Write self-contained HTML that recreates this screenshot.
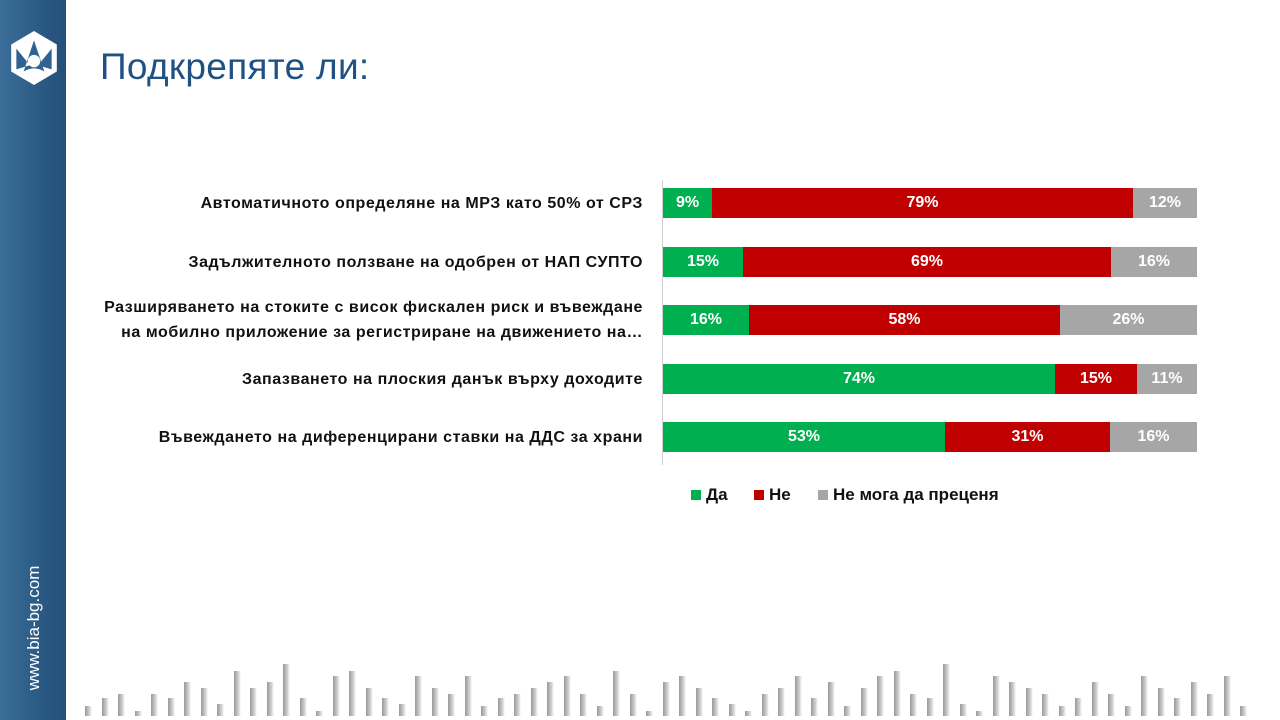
<!DOCTYPE html>
<html><head><meta charset="utf-8"><style>
body{margin:0;width:1280px;height:720px;position:relative;background:#fff;overflow:hidden;font-family:"Liberation Sans",sans-serif}
.side{position:absolute;left:0;top:0;width:66px;height:720px;background:linear-gradient(90deg,#3a6e98,#2a5a85 60%,#244f78)}
.url{position:absolute;left:34px;top:628px;color:#fff;font-size:17px;transform:translate(-50%,-50%) rotate(-90deg);white-space:nowrap}
.title{position:absolute;left:100px;top:46px;font-size:37px;color:#1f5282;letter-spacing:0.3px}
.lab{position:absolute;right:637px;font-weight:bold;font-size:16px;letter-spacing:0.55px;color:#111;text-align:right;line-height:25px;white-space:nowrap}
.bar{position:absolute;height:30px;color:#fff;font-weight:bold;font-size:16px;text-align:center;line-height:30px}
.g{background:#00b050}.r{background:#c00000}.y{background:#a6a6a6}
.axis{position:absolute;left:662px;top:180px;width:1px;height:285px;background:#d0d0d0}
.leg{position:absolute;top:485px;font-weight:bold;font-size:17px;color:#111}
.leg i{display:inline-block;width:10px;height:10px;margin-right:5px}
.dec{position:absolute;bottom:4px;width:7px;background:linear-gradient(90deg,#999,#ccc 60%,#fff)}
</style></head><body>
<div class="side"><svg style="position:absolute;left:9px;top:30px" width="50" height="56" viewBox="0 0 48 54"><polygon points="24,1 46,14 46,40 24,53 2,40 2,14" fill="#fff"/><path d="M24,10 L14,40 Q24,34 34,40 Z M7,18 L20,34 L7,38 Z M41,18 L28,34 L41,38 Z" fill="#2e6290"/><circle cx="24" cy="30" r="6" fill="#fff"/></svg><div class="url">www.bia-bg.com</div></div>
<div class="title">Подкрепяте ли:</div>
<div class="axis"></div>
<div class="lab" style="top:191px">Автоматичното определяне на МРЗ като 50% от СРЗ</div>
<div class="lab" style="top:250px">Задължителното ползване на одобрен от НАП СУПТО</div>
<div class="lab" style="top:295px">Разширяването на стоките с висок фискален риск и въвеждане<br>на мобилно приложение за регистриране на движението на…</div>
<div class="lab" style="top:367px">Запазването на плоския данък върху доходите</div>
<div class="lab" style="top:425px">Въвеждането на диференцирани ставки на ДДС за храни</div>

<div class="bar g" style="top:188px;left:663px;width:49px">9%</div>
<div class="bar r" style="top:188px;left:712px;width:421px">79%</div>
<div class="bar y" style="top:188px;left:1133px;width:64px">12%</div>

<div class="bar g" style="top:247px;left:663px;width:80px">15%</div>
<div class="bar r" style="top:247px;left:743px;width:368px">69%</div>
<div class="bar y" style="top:247px;left:1111px;width:86px">16%</div>

<div class="bar g" style="top:305px;left:663px;width:86px">16%</div>
<div class="bar r" style="top:305px;left:749px;width:311px">58%</div>
<div class="bar y" style="top:305px;left:1060px;width:137px">26%</div>

<div class="bar g" style="top:364px;left:663px;width:392px">74%</div>
<div class="bar r" style="top:364px;left:1055px;width:82px">15%</div>
<div class="bar y" style="top:364px;left:1137px;width:60px">11%</div>

<div class="bar g" style="top:422px;left:663px;width:282px">53%</div>
<div class="bar r" style="top:422px;left:945px;width:165px">31%</div>
<div class="bar y" style="top:422px;left:1110px;width:87px">16%</div>

<div class="leg" style="left:691px"><i class="g"></i>Да</div>
<div class="leg" style="left:754px"><i class="r"></i>Не</div>
<div class="leg" style="left:818px"><i class="y"></i>Не мога да преценя</div>

<div id="d"></div>
<script>
var h=[10,18,22,5,22,18,34,28,12,45,28,34,52,18,5,40,45,28,18,12,40,28,22,40,10,18,22,28,34,40,22,10,45,22,5,34,40,28,18,12,5,22,28,40,18,34,10,28,40,45,22,18,52,12,5,40,34,28,22,10,18,34,22,10,40,28,18,34,22,40,10];
var s='';for(var i=0;i<h.length;i++){s+='<div class="dec" style="left:'+(85+i*16.5)+'px;height:'+h[i]+'px"></div>'}
document.getElementById('d').innerHTML=s;
</script>
</body></html>
